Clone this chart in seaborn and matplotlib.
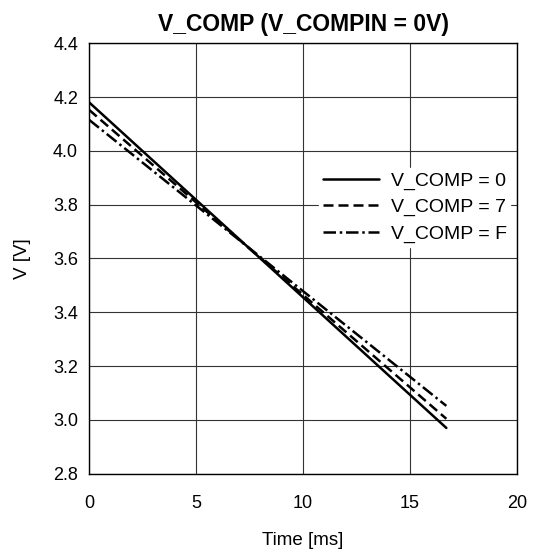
import pandas as pd
import matplotlib.pyplot as plt
import seaborn as sns

# data
time_ms = [0, 16.7]
v_comp_0 = [4.18, 2.97]
v_comp_7 = [4.152, 3.004]
v_comp_f = [4.115, 3.052]
labels = ["V_COMP = 0", "V_COMP = 7", "V_COMP = F"]

df = pd.DataFrame({
    "t": time_ms * 3,
    "v": v_comp_0 + v_comp_7 + v_comp_f,
    "s": [labels[0]] * 2 + [labels[1]] * 2 + [labels[2]] * 2,
})

sns.set_style("white")
plt.rcParams['font.family'] = ['Liberation Sans', 'DejaVu Sans']
plt.rcParams['text.color'] = 'black'
plt.rcParams['axes.labelcolor'] = 'black'
plt.rcParams['xtick.color'] = 'black'
plt.rcParams['ytick.color'] = 'black'

fig, ax = plt.subplots(figsize=(5.34, 5.54), dpi=100)
fig.subplots_adjust(left=0.167, right=0.968, top=0.922, bottom=0.145)

sns.lineplot(data=df, x="t", y="v", hue="s", style="s",
             palette=["black"] * 3,
             dashes=[(None, None), (4, 2), (5, 1.5, 1, 1.5)],
             linewidth=1.8, ax=ax)

ax.set_xlim(0, 20)
ax.set_ylim(2.8, 4.4)
ax.set_xticks([0, 5, 10, 15, 20])
ax.set_yticks([2.8, 3.0, 3.2, 3.4, 3.6, 3.8, 4.0, 4.2, 4.4])
ax.set_yticklabels([f"{v:.1f}" for v in ax.get_yticks()])
ax.grid(True, color="#333333", linewidth=0.8)
for sp in ax.spines.values():
    sp.set_color("black")
    sp.set_linewidth(1.0)
ax.tick_params(labelsize=13, length=0)
ax.tick_params(axis="x", pad=15)
ax.tick_params(axis="y", pad=8)

ax.set_title("V_COMP (V_COMPIN = 0V)", fontsize=16.5, fontweight="bold", pad=9)
ax.set_xlabel("Time [ms]", fontsize=13.5, labelpad=15)
ax.set_ylabel("V [V]", fontsize=13.5, labelpad=16)

leg = ax.legend(loc="upper right", bbox_to_anchor=(0.985, 0.71), fontsize=14,
                frameon=True, facecolor="white", edgecolor="white",
                framealpha=1, handlelength=2.9, handletextpad=0.6,
                borderpad=0.2, borderaxespad=0, labelspacing=0.45, title=None)

plt.savefig("out.png", dpi=100)
